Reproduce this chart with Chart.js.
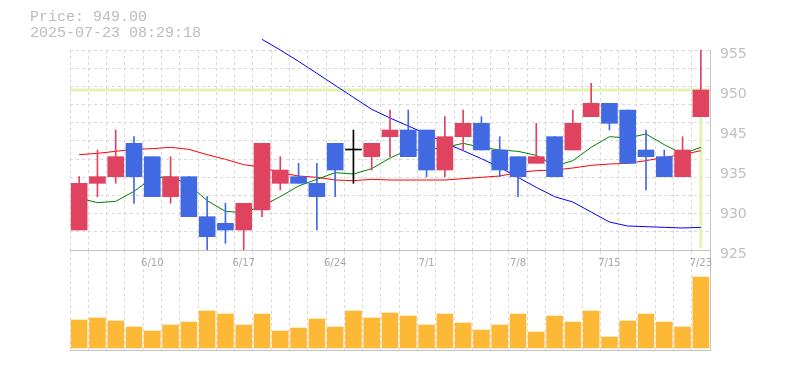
<!DOCTYPE html>
<html>
<head>
<meta charset="utf-8">
<script src="https://cdn.jsdelivr.net/npm/chart.js@4.4.1/dist/chart.umd.min.js"></script>
<style>
body { margin: 0; background: #fff; }
#wrap { position: relative; width: 785px; height: 370px; }
#wrap canvas { position: absolute; left: 0; top: 0; }
#head {
    position: absolute; left: 30px; top: 10px;
    font: 15px "Liberation Mono", monospace; line-height: 16px;
    color: #bdbdbd; white-space: pre;
}
</style>
</head>
<body>
<div id="wrap">
    <canvas id="volChart" width="785" height="370"></canvas>
    <canvas id="priceChart" width="785" height="370"></canvas>
    <div id="head"></div>
</div>
<script>
const dates = ["6/4", "6/5", "6/6", "6/9", "6/10", "6/11", "6/12", "6/13", "6/16", "6/17",
    "6/18", "6/19", "6/20", "6/23", "6/24", "6/25", "6/26", "6/27", "6/30", "7/1",
    "7/2", "7/3", "7/4", "7/7", "7/8", "7/9", "7/10", "7/11", "7/14", "7/15",
    "7/16", "7/17", "7/18", "7/22", "7/23"];
const xTickLabels = ["6/10", "6/17", "6/24", "7/1", "7/8", "7/15", "7/23"];
// bottom to top, as printed on the right axis
const yTickLabels = ["925", "930", "935", "945", "950", "955"];

const open  = [928, 935, 936, 941, 939, 933, 936, 930, 929, 928, 931, 935, 936, 935, 941, 940, 939, 942,
    943, 943, 937, 942, 944, 940, 939, 938, 942, 940, 945, 947, 946, 940, 939, 936, 945];
const high  = [936, 940, 943, 942, 939, 939, 936, 933, 932, 932, 941, 939, 938, 938, 941, 943, 941, 946,
    946, 943, 945, 946, 945, 942, 939, 944, 942, 946, 950, 947, 946, 943, 940, 942, 955];
const low   = [928, 933, 935, 932, 933, 932, 930, 925, 926, 925, 930, 934, 935, 928, 933, 935, 937, 939,
    939, 936, 936, 940, 940, 936, 933, 938, 936, 940, 945, 943, 938, 934, 936, 936, 945];
const close = [935, 936, 939, 936, 933, 936, 930, 927, 928, 932, 941, 937, 935, 933, 937, 940, 941, 943,
    939, 937, 942, 944, 940, 937, 936, 939, 936, 944, 947, 944, 938, 939, 936, 940, 949];

const ma5 = [932.8, 932.1, 932.3, 933.8, 935.8, 936.0, 934.8, 932.4, 930.8, 930.6, 931.6, 933.0,
    934.6, 935.6, 936.6, 936.4, 937.2, 938.8, 940.0, 940.0, 940.4, 941.0, 940.4, 940.0, 939.8,
    939.2, 937.6, 938.4, 940.4, 942.0, 941.8, 942.4, 940.8, 939.4, 940.4];
const ma25 = [939.3, 939.5, 939.8, 940.1, 940.2, 940.4, 940.1, 939.3, 938.6, 937.8, 937.4, 936.6,
    936.1, 935.9, 935.5, 935.4, 935.6, 935.5, 935.5, 935.5, 935.5, 935.7, 935.9, 936.1, 936.6,
    936.9, 937.0, 937.3, 937.7, 937.9, 938.0, 938.4, 938.9, 939.3, 939.9];
const ma75 = [null, null, null, null, null, null, null, null, null, null,
    956.6, 955.0, 953.3, 951.5, 949.7, 947.9, 946.1, 944.8, 943.6, 942.4, 941.1, 939.9, 938.7,
    937.4, 935.9, 934.4, 933.0, 932.2, 930.7, 929.2, 928.6, 928.5, 928.4, 928.3, 928.4];

const volume = [28000, 30000, 27000, 21000, 17000, 23000, 26000, 37000, 34000, 23000, 34000, 17000,
    20000, 29000, 21000, 37000, 30000, 35000, 32000, 23000, 34000, 25000, 18000, 23000, 34000,
    16000, 32000, 26000, 37000, 11000, 27000, 34000, 26000, 21000, 71000];

const lastPrice = 949.00;
const stamp = "2025-07-23 08:29:18";
const priceMin = 925, priceMax = 955;

const UP = "#e04360", DOWN = "#4169e1", DOJI = "#000000";
const GRID = "#d9d9d9", EDGE = "#c4c4c4";

document.getElementById("head").textContent =
    "Price: " + lastPrice.toFixed(2) + "\n" + stamp;

let candleColor = open.map((o, i) => close[i] > o ? UP : (close[i] < o ? DOWN : DOJI));

// current price line + marker on the last candle
const priceLine = {
    id: "priceLine",
    beforeDatasetsDraw(chart) {
        const { ctx, chartArea, scales } = chart;
        const py = scales.y.getPixelForValue(lastPrice);
        const px = scales.x.getPixelForValue(dates.length - 1);
        ctx.save();
        ctx.strokeStyle = "#e3f3b4";
        ctx.lineWidth = 3;
        ctx.beginPath();
        ctx.moveTo(chartArea.left, py);
        ctx.lineTo(chartArea.right, py);
        ctx.moveTo(px, py);
        ctx.lineTo(px, chartArea.bottom - 2);
        ctx.stroke();
        ctx.restore();
    }
};

const lineSet = (data, color) => ({
    type: "line",
    data: data,
    borderColor: color,
    borderWidth: 1,
    pointRadius: 0,
    tension: 0,
    clip: false,
    order: 3,
});

new Chart(document.getElementById("priceChart"), {
    type: "bar",
    data: {
        labels: dates,
        datasets: [
            {
                data: open.map((o, i) => [o, close[i]]),
                backgroundColor: candleColor,
                barThickness: 16,
                minBarLength: 1,
                grouped: false,
                order: 1,
            },
            {
                data: low.map((l, i) => [l, high[i]]),
                backgroundColor: candleColor,
                barThickness: 1,
                grouped: false,
                order: 2,
            },
            lineSet(ma5, "#008000"),
            lineSet(ma25, "#ff0000"),
            lineSet(ma75, "#0000ff"),
        ],
    },
    options: {
        responsive: false,
        animation: false,
        devicePixelRatio: 1,
        layout: { padding: { left: 70, top: 50, right: 0, bottom: 0 } },
        plugins: { legend: { display: false }, tooltip: { enabled: false } },
        scales: {
            x: {
                grid: { color: GRID, drawTicks: false },
                border: { color: EDGE, dash: [3, 3] },
                ticks: {
                    autoSkip: false,
                    maxRotation: 0,
                    padding: 7,
                    color: "#a8a8a8",
                    font: { family: "DejaVu Sans", size: 10 },
                    callback: (v, i) => xTickLabels.includes(dates[i]) ? dates[i] : "",
                },
                afterFit: (s) => { s.height = 120; },
            },
            y: {
                position: "right",
                min: priceMin,
                max: priceMax,
                weight: 0,
                grid: { color: GRID, drawTicks: false },
                border: { color: EDGE, dash: [3, 3] },
                ticks: { display: false },
                afterBuildTicks: (s) => {
                    s.ticks = [];
                    for (let k = 0; k <= 11; k++) {
                        s.ticks.push({ value: priceMin + k * (priceMax - priceMin) / 11 });
                    }
                },
                afterFit: (s) => { s.width = 0; },
            },
            yl: {
                position: "right",
                min: priceMin,
                max: priceMax,
                weight: 1,
                grid: { display: false, drawTicks: false },
                border: { display: false },
                ticks: {
                    autoSkip: false,
                    padding: 10,
                    color: "#c0c0c0",
                    font: { family: "DejaVu Sans", size: 14 },
                    callback: (v, i) => yTickLabels[i],
                },
                afterBuildTicks: (s) => {
                    s.ticks = yTickLabels.map((t, k) => ({
                        value: priceMin + k * (priceMax - priceMin) / 5 - 0.6,
                    }));
                },
                afterFit: (s) => { s.width = 75; },
            },
        },
    },
    plugins: [priceLine],
});

new Chart(document.getElementById("volChart"), {
    type: "bar",
    data: {
        labels: dates,
        datasets: [{
            data: volume,
            backgroundColor: "#fdb835",
            barThickness: 16,
        }],
    },
    options: {
        responsive: false,
        animation: false,
        devicePixelRatio: 1,
        layout: { padding: { left: 70, top: 251, right: 0, bottom: 0 } },
        plugins: { legend: { display: false }, tooltip: { enabled: false } },
        scales: {
            x: {
                grid: { color: GRID, drawTicks: false },
                border: { color: EDGE, dash: [3, 3] },
                ticks: { display: false },
                afterFit: (s) => { s.height = 20; },
            },
            y: {
                position: "right",
                min: -2000,
                max: 97000,
                grid: { display: false, drawTicks: false },
                border: { color: EDGE },
                ticks: { display: false },
                afterFit: (s) => { s.width = 75; },
            },
        },
    },
});
</script>
</body>
</html>
